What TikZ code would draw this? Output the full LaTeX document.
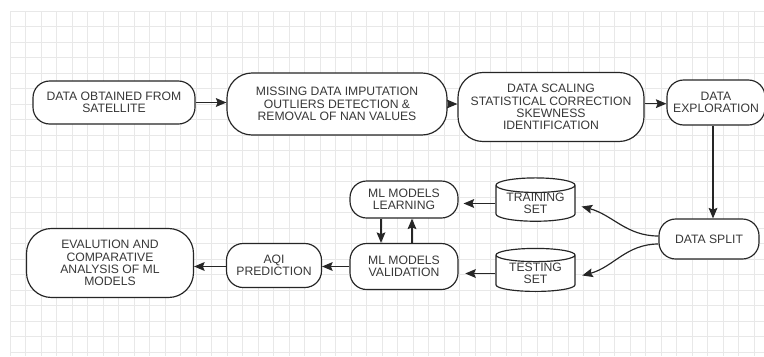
\documentclass[tikz,border=0pt]{standalone}
\usepackage{fontspec}
\setmainfont{Liberation Sans}
\usepackage{tikz}
\usetikzlibrary{arrows.meta,shapes.geometric}

\begin{document}
\begin{tikzpicture}[
    x=0.03cm, y=-0.03cm,
    stage/.style={draw=black!85, fill=white, line width=1pt, rounded corners=0.5cm, align=center, inner sep=0pt,
      font=\fontsize{10.4}{10.5}\selectfont, text=black!78},
    bigstage/.style={stage, rounded corners=0.75cm},
    store/.style={draw=black!85, fill=white, line width=1pt, cylinder, shape border rotate=90, aspect=0.25,
      align=center, inner sep=0pt, font=\fontsize{10.4}{10.5}\selectfont, text=black!78},
    arrow/.style={-{Stealth[length=9pt,width=7.5pt,inset=1.5pt]}, line width=1pt, draw=black!85},
    gridline/.style={draw=black!9, line width=0.6pt}
  ]
    \useasboundingbox[fill=white] (0,0) rectangle (764,356);
    % background grid
    \foreach \gx in {0,...,48} \draw[gridline] ({10+15.5*\gx},11) -- ({10+15.5*\gx},356);
    \foreach \gy in {0,...,22} \draw[gridline] (10,{11+15.5*\gy}) -- (764,{11+15.5*\gy});

    % first row
    \node[stage, minimum width=4.86cm, minimum height=1.29cm]    (sat)     at (114,102.5) {DATA OBTAINED FROM\\SATELLITE};
    \node[bigstage, minimum width=6.6cm, minimum height=1.86cm]  (clean)   at (337,104)   {MISSING DATA IMPUTATION\\OUTLIERS DETECTION \&\\REMOVAL OF NAN VALUES};
    \node[bigstage, minimum width=5.58cm, minimum height=2.07cm] (scaling) at (551,107)   {DATA SCALING\\STATISTICAL CORRECTION\\SKEWNESS\\IDENTIFICATION};
    \node[stage, minimum width=2.94cm, minimum height=1.35cm]    (explore) at (716,102.5) {DATA\\EXPLORATION};

    % split and sets
    \node[stage, minimum width=3.0cm, minimum height=1.2cm]  (split) at (709,239)   {DATA SPLIT};
    \node[store, minimum width=2.37cm, minimum height=1.29cm] (train) at (535.5,203.5) {TRAINING\\SET};
    \node[store, minimum width=2.37cm, minimum height=1.29cm] (test)  at (535.5,273.5) {TESTING\\SET};

    % models
    \node[stage, minimum width=3.24cm, minimum height=1.11cm]    (learn) at (404,199.5) {ML MODELS\\LEARNING};
    \node[stage, minimum width=3.24cm, minimum height=1.38cm]    (valid) at (404,266.5) {ML MODELS\\VALIDATION};
    \node[stage, minimum width=2.85cm, minimum height=1.32cm]    (aqi)   at (274,265.5) {AQI\\PREDICTION};
    \node[bigstage, minimum width=5.01cm, minimum height=2.07cm] (eval)  at (110,263)   {EVALUTION AND\\COMPARATIVE\\ANALYSIS OF ML\\MODELS};

    \draw[arrow] (sat.east) -- (sat.east -| clean.west);
    \draw[arrow] (clean.east) -- (clean.east -| scaling.west);
    \draw[arrow] ([yshift=0.1cm]scaling.east) -- ([yshift=0.1cm]scaling.east -| explore.west);
    \draw[arrow] ([xshift=-0.09cm]explore.south) -- ([xshift=-0.09cm]explore.south |- split.north);
    \draw[arrow] ([yshift=0.09cm]split.west) to[out=180, in=-15] ([xshift=0.18cm, yshift=-0.09cm]train.east);
    \draw[arrow] ([yshift=-0.15cm]split.west) to[out=180, in=15] ([xshift=0.2cm, yshift=-0.06cm]test.east);
    \draw[arrow, shorten >=0.15cm] (train.west) -- (train.west -| learn.east);
    \draw[arrow, shorten >=0.2cm] (test.west) -- (test.west -| valid.east);
    \draw[arrow] ([xshift=-0.69cm]learn.south) -- ([xshift=-0.69cm]valid.north);
    \draw[arrow] ([xshift=0.24cm]valid.north) -- ([xshift=0.24cm]learn.south);
    \draw[arrow] (valid.west) -- (valid.west -| aqi.east);
    \draw[arrow] ([yshift=-0.03cm]aqi.west) -- ([yshift=-0.03cm]aqi.west -| eval.east);
\end{tikzpicture}
\end{document}
